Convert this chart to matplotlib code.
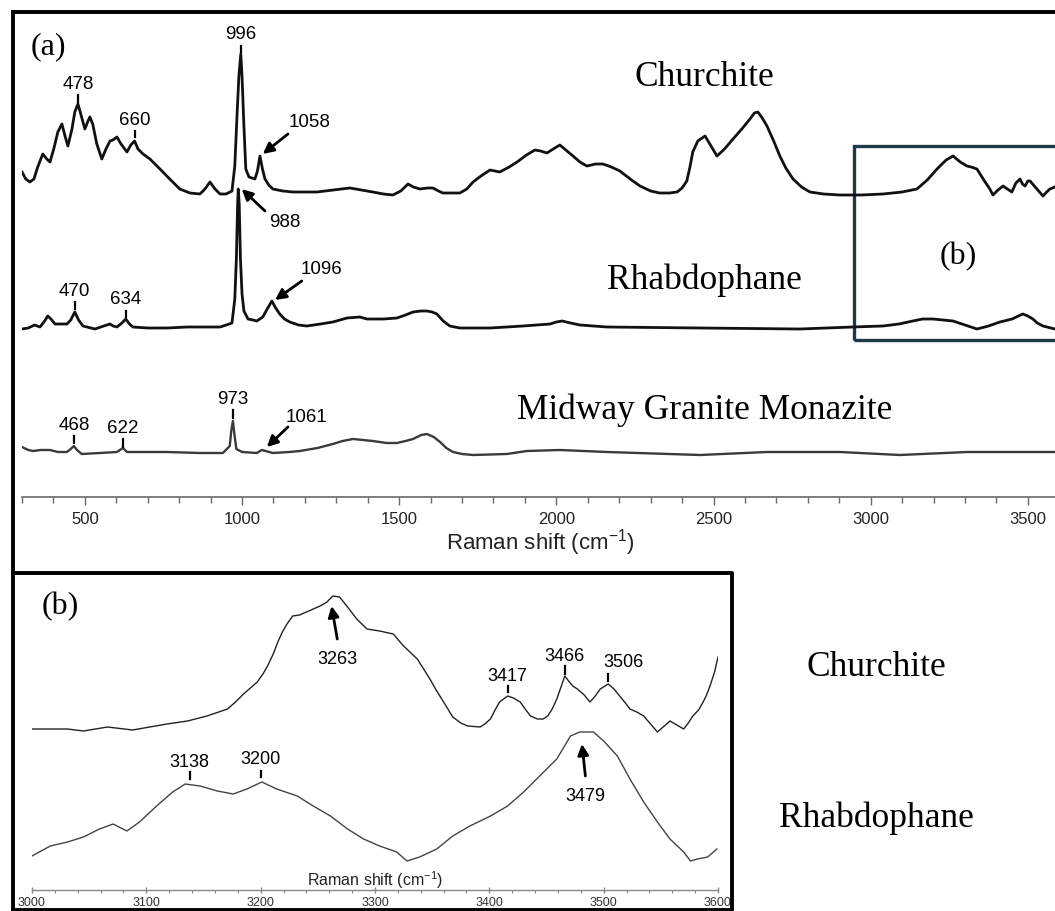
import matplotlib.pyplot as plt
from matplotlib.lines import Line2D
from matplotlib.patches import Rectangle
from matplotlib.ticker import MultipleLocator

# ---- data (a): full spectra, intensity above each trace's own baseline ----
church_a_shift = [300, 312, 325, 338, 350, 366, 379, 389, 401, 414, 427, 436, 446, 459, 468,
                  478, 487, 500, 510, 516, 525, 538, 554, 567, 580, 589, 602, 615, 634, 646,
                  658, 669, 685, 707, 739, 770, 802, 834, 866, 882, 898, 914, 930, 949, 968,
                  977, 984, 990, 996, 1000, 1006, 1012, 1022, 1041, 1049, 1057, 1065, 1073,
                  1085, 1098, 1130, 1162, 1238, 1290, 1343, 1380, 1416, 1450, 1480, 1505, 1528,
                  1545, 1566, 1590, 1607, 1625, 1639, 1693, 1715, 1735, 1760, 1789, 1805, 1820,
                  1850, 1875, 1905, 1932, 1950, 1970, 1990, 2011, 2030, 2053, 2075, 2097, 2125,
                  2148, 2175, 2202, 2235, 2266, 2300, 2329, 2360, 2384, 2400, 2415, 2425, 2434,
                  2450, 2473, 2490, 2511, 2535, 2562, 2590, 2616, 2630, 2641, 2655, 2670, 2690,
                  2711, 2730, 2753, 2780, 2807, 2850, 2902, 2970, 3039, 3100, 3147, 3180, 3211,
                  3240, 3262, 3285, 3306, 3320, 3338, 3360, 3379, 3389, 3405, 3421, 3435, 3449,
                  3462, 3475, 3483, 3491, 3500, 3507, 3518, 3529, 3548, 3560, 3570, 3586, 3600]
church_a_int = [23, 16, 13, 16, 28, 41, 36, 33, 46, 63, 71, 60, 49, 66, 83,
                91, 81, 66, 74, 78, 71, 51, 36, 46, 54, 55, 58, 51, 43, 50,
                54, 46, 41, 36, 26, 16, 6, 2, 1, 6, 13, 6, 1, 1, 4,
                29, 79, 119, 141, 119, 69, 26, 18, 16, 24, 39, 26, 16,
                10, 6, 4, 3, 3, 5, 7, 5, 3, 1, 0, 4, 11,
                8, 6, 7, 7, 4, 2, 2, 6, 13, 19, 25, 24, 23,
                28, 33, 40, 45, 44, 42, 46, 50, 45, 39, 33, 29, 31,
                31, 28, 24, 16, 9, 4, 2, 2, 3, 7, 14, 28, 43,
                54, 59, 50, 39, 46, 56, 66, 76, 82, 83, 77, 69, 55,
                39, 27, 16, 8, 3, 1, 0, 0, 1, 3, 6, 15, 26,
                35, 39, 33, 29, 28, 26, 15, 6, 0, 5, 9, 6, 3,
                12, 16, 11, 9, 14, 14, 10, 6, -1, 3, 6, 8, 12]

rhab_a_shift = [300, 320, 340, 357, 370, 382, 392, 405, 443, 455, 468, 480, 494, 532, 560,
                580, 590, 602, 618, 630, 642, 653, 700, 761, 825, 930, 950, 968, 977, 982,
                986, 988, 991, 995, 1000, 1006, 1019, 1035, 1047, 1066, 1080, 1095, 1107,
                1120, 1135, 1152, 1180, 1206, 1250, 1289, 1334, 1375, 1397, 1450, 1493, 1520,
                1544, 1570, 1588, 1605, 1620, 1640, 1661, 1693, 1789, 1894, 1980, 2000, 2018,
                2045, 2075, 2161, 2457, 2775, 2943, 3039, 3090, 3134, 3165, 3198, 3230, 3262,
                3300, 3338, 3375, 3411, 3450, 3470, 3484, 3500, 3516, 3530, 3548, 3586, 3600]
rhab_a_int = [0, 1, 4, 2, 7, 13, 10, 5, 5, 9, 17, 9, 3, 0, 3,
              5, 3, 2, 6, 10, 5, 2, 1, 1, 2, 2, 4, 6, 30, 70,
              125, 140, 125, 70, 35, 18, 10, 9, 8, 12, 20, 28, 21,
              15, 10, 7, 4, 3, 5, 7, 11, 12, 10, 10, 11, 14,
              17, 18, 18, 17, 15, 8, 3, 1, 1, 3, 5, 7, 8,
              6, 4, 2, 1, 0, 2, 3, 5, 8, 10, 10, 9, 8,
              4, 0, 3, 7, 10, 13, 15, 13, 10, 6, 3, 0, 0]

midway_shift = [300, 320, 335, 360, 389, 414, 443, 455, 465, 475, 490, 548, 602, 621, 634,
                761, 866, 939, 961, 966, 971, 976, 982, 1000, 1047, 1063, 1098, 1150, 1184,
                1240, 1289, 1320, 1353, 1385, 1416, 1460, 1493, 1520, 1544, 1570, 1588, 1610,
                1630, 1650, 1671, 1700, 1735, 1843, 1906, 2011, 2161, 2457, 2670, 2902, 3093,
                3306, 3600]
midway_int = [8, 5, 4, 5, 5, 3, 3, 6, 9, 5, 1, 2, 3, 7, 3,
              3, 2, 2, 9, 25, 34, 20, 6, 3, 2, 5, 2, 3, 4,
              7, 11, 14, 16, 15, 14, 12, 12, 14, 16, 20, 21, 18,
              13, 7, 3, 1, 0, 1, 4, 5, 3, 0, 3, 3, 0,
              3, 3]

# ---- data (b): O-H stretching region ----
church_b_shift = [3000, 3031, 3045, 3066, 3088, 3103, 3118, 3136, 3153, 3171, 3178, 3185, 3191,
                  3197, 3202, 3206, 3211, 3215, 3219, 3223, 3228, 3234, 3240, 3246, 3252, 3258,
                  3263, 3269, 3276, 3284, 3293, 3304, 3316, 3325, 3337, 3342, 3348, 3354, 3360,
                  3368, 3375, 3381, 3392, 3396, 3401, 3405, 3409, 3416, 3421, 3427, 3432, 3436,
                  3442, 3447, 3451, 3455, 3459, 3463, 3466, 3470, 3473, 3477, 3483, 3488, 3492,
                  3497, 3504, 3509, 3514, 3519, 3523, 3529, 3535, 3541, 3547, 3553, 3558, 3564,
                  3570, 3574, 3578, 3583, 3587, 3590, 3593, 3597, 3600]
church_b_int = [3, 3, 1, 5, 2, 5, 8, 11, 16, 23, 30, 38, 44,
                50, 58, 66, 78, 90, 100, 108, 116, 117, 120, 123, 126, 130,
                136, 135, 125, 113, 103, 101, 98, 86, 73, 64, 53, 41, 30,
                15, 9, 6, 5, 8, 13, 22, 30, 36, 34, 30, 22, 16,
                13, 13, 16, 23, 33, 46, 56, 50, 46, 43, 37, 30, 35,
                43, 48, 43, 36, 29, 23, 20, 16, 8, 0, 6, 11, 7,
                3, 9, 16, 22, 30, 37, 46, 60, 75]

rhab_b_shift = [3000, 3016, 3031, 3045, 3059, 3071, 3083, 3094, 3109, 3123, 3134, 3147, 3162,
                3176, 3188, 3201, 3214, 3232, 3246, 3261, 3276, 3290, 3304, 3319, 3328, 3339,
                3354, 3368, 3383, 3401, 3416, 3430, 3444, 3459, 3471, 3479, 3491, 3500, 3512,
                3523, 3535, 3547, 3558, 3570, 3576, 3582, 3591, 3599]
rhab_b_int = [5, 15, 19, 24, 32, 37, 30, 39, 55, 69, 77, 75, 70,
              67, 72, 79, 72, 65, 55, 45, 32, 22, 15, 9, 0, 4,
              12, 25, 35, 45, 55, 69, 85, 102, 125, 129, 129, 120, 105,
              82, 59, 39, 22, 9, 0, 2, 4, 12]

SANS = 'Liberation Sans'
SERIF = 'Liberation Serif'

fig = plt.figure(figsize=(10.55, 9.12), dpi=100)

# ---------------- panel (a) ----------------
ax1 = fig.add_axes([22 / 1055, (912 - 498) / 912, 1053 / 1055, 486 / 912])
ax1.plot(church_a_shift, [302 + v for v in church_a_int], color='#111111', lw=2.0,
         solid_joinstyle='round')
ax1.plot(rhab_a_shift, [168 + v for v in rhab_a_int], color='#111111', lw=2.0,
         solid_joinstyle='round')
ax1.plot(midway_shift, [42 + v for v in midway_int], color='#3a3a3a', lw=1.7,
         solid_joinstyle='round')
ax1.set_xlim(300, 3650)
ax1.set_ylim(0, 486)
for s in ['left', 'right', 'top']:
    ax1.spines[s].set_visible(False)
ax1.spines['bottom'].set_color('#6a6a6a')
ax1.spines['bottom'].set_linewidth(1.2)
ax1.set_yticks([])
ax1.set_xticks([500, 1000, 1500, 2000, 2500, 3000, 3500])
ax1.xaxis.set_minor_locator(MultipleLocator(100))
ax1.tick_params(axis='x', which='major', length=6, width=1, color='#6a6a6a',
                labelsize=12, labelcolor='#222222', pad=4)
ax1.tick_params(axis='x', which='minor', length=4, width=1, color='#6a6a6a')
for lab in ax1.get_xticklabels():
    lab.set_family(SANS)
ax1.patch.set_alpha(0)


def tick_label(ax, text, x, yt, y0, y1, size=13.5):
    ax.plot([x, x], [y0, y1], color='black', lw=1.6)
    ax.text(x, yt, text, ha='center', va='center', fontsize=size, family=SANS)


def arrow_label(ax, text, xt, yt, tail, tip, size=13.5, lw=2.0):
    ax.annotate('', xy=tip, xytext=tail,
                arrowprops=dict(arrowstyle='-|>', color='black', lw=lw,
                                mutation_scale=16, shrinkA=0, shrinkB=0))
    ax.text(xt, yt, text, ha='center', va='center', fontsize=size, family=SANS)


tick_label(ax1, '478', 478, 413, 395, 402)
tick_label(ax1, '660', 658, 377, 360, 366)
tick_label(ax1, '996', 996, 463, 445, 451)
tick_label(ax1, '470', 468, 206, 188, 195)
tick_label(ax1, '634', 630, 198, 180, 186)
tick_label(ax1, '973', 971, 98, 79, 87)
tick_label(ax1, '468', 465, 72, 54, 61)
tick_label(ax1, '622', 621, 69, 50, 58)
arrow_label(ax1, '1058', 1216, 375, (1146, 363), (1066, 343))
arrow_label(ax1, '988', 1136, 275, (1073, 286), (999, 308))
arrow_label(ax1, '1096', 1254, 228, (1190, 216), (1105, 197))
arrow_label(ax1, '1061', 1206, 80, (1146, 70), (1079, 50))

ax1.text(2470, 420, 'Churchite', ha='center', va='center', fontsize=25.5, family=SERIF)
ax1.text(2470, 218, 'Rhabdophane', ha='center', va='center', fontsize=25.5, family=SERIF)
ax1.text(2473, 88, 'Midway Granite Monazite', ha='center', va='center', fontsize=25.5, family=SERIF)
ax1.text(3278, 241, '(b)', ha='center', va='center', fontsize=23, family=SERIF)
ax1.add_patch(Rectangle((2947, 157), 800, 194, fill=False, edgecolor='#1f3947', lw=2.4))

fig.text(540 / 1055, 1 - 543 / 912, 'Raman shift (cm$^{\\mathregular{-1}}$)', ha='center',
         va='center', fontsize=16, family=SANS, color='#222222')
fig.text(48 / 1055, 1 - 47 / 912, '(a)', ha='center', va='center', fontsize=23, family=SERIF)

# ---------------- panel (b) ----------------
ax2 = fig.add_axes([32 / 1055, (912 - 891) / 912, 686 / 1055, 301 / 912])
ax2.plot(church_b_shift, [158 + v for v in church_b_int], color='#222222', lw=1.0)
ax2.plot(rhab_b_shift, [29 + v for v in rhab_b_int], color='#444444', lw=1.0)
ax2.set_xlim(3000, 3600)
ax2.set_ylim(0, 301)
for s in ['left', 'right', 'top']:
    ax2.spines[s].set_visible(False)
ax2.spines['bottom'].set_color('#888888')
ax2.spines['bottom'].set_linewidth(1.0)
ax2.set_yticks([])
ax2.set_xticks([3000, 3100, 3200, 3300, 3400, 3500, 3600])
ax2.xaxis.set_minor_locator(MultipleLocator(20))
ax2.tick_params(axis='x', which='major', length=4, width=1, color='#888888',
                labelsize=9, labelcolor='#333333', pad=2, direction='inout')
ax2.tick_params(axis='x', which='minor', length=2, width=0.8, color='#888888')
for lab in ax2.get_xticklabels():
    lab.set_family(SANS)
ax2.patch.set_alpha(0)

tick_label(ax2, '3138', 3138, 128, 111, 118, size=13)
tick_label(ax2, '3200', 3200, 131, 113, 119, size=13)
tick_label(ax2, '3417', 3416, 214, 198, 204, size=13)
tick_label(ax2, '3466', 3466, 234, 216, 224, size=13)
ax2.plot([3504, 3504], [209, 216], color='black', lw=1.6)
ax2.text(3517, 228, '3506', ha='center', va='center', fontsize=13, family=SANS)
arrow_label(ax2, '3263', 3267, 231, (3267, 251), (3262, 284), size=13)
arrow_label(ax2, '3479', 3484, 94, (3484, 114), (3481, 146), size=13)
ax2.text(3300, 11, 'Raman shift (cm$^{\\mathregular{-1}}$)', ha='center', va='center',
         fontsize=11.5, family=SANS, color='#222222')

fig.text(60 / 1055, 1 - 607 / 912, '(b)', ha='center', va='center', fontsize=23, family=SERIF)
fig.text(876 / 1055, 1 - 667 / 912, 'Churchite', ha='center', va='center', fontsize=25.5, family=SERIF)
fig.text(876 / 1055, 1 - 818 / 912, 'Rhabdophane', ha='center', va='center', fontsize=25.5, family=SERIF)


# ---------------- frames ----------------
def frame_line(xs, ys, lw=2.8):
    fig.add_artist(Line2D([x / 1055 for x in xs], [1 - y / 912 for y in ys],
                          transform=fig.transFigure, color='black', lw=lw,
                          solid_capstyle='projecting'))


frame_line([13, 13], [13, 912])
frame_line([13, 1060], [13, 13])
frame_line([13, 732, 732, 13], [574, 574, 911, 911])

fig.savefig('out.png', dpi=100)
